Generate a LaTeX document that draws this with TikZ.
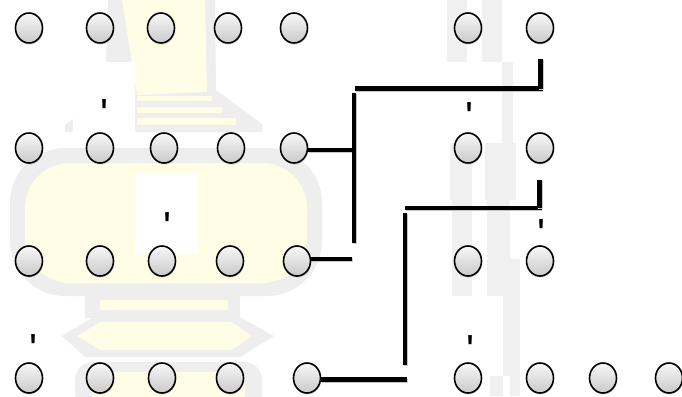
\documentclass[tikz,border=0pt]{standalone}
\usepackage{fontspec}
\newfontfamily\tickfont{Liberation Sans}
\usetikzlibrary{shapes.geometric,shadows}
\definecolor{wmgray}{HTML}{EEEEEE}
\definecolor{wmyel}{HTML}{FFFDE6}
\definecolor{stripe}{HTML}{F0F0F0}
\begin{document}
\begin{tikzpicture}[x=1pt,y=-1pt,
  ball/.style={ellipse, minimum width=27pt, minimum height=30pt, inner sep=0pt,
    draw=black, line width=1.6pt, top color=gray!6, bottom color=gray!42,
    drop shadow={shadow xshift=0.6pt, shadow yshift=-1.6pt, opacity=0.25}},
  wire/.style={line width=4.2pt, black,
    preaction={draw=black!22, line width=4.2pt, transform canvas={shift={(0.9pt,-1.3pt)}}}},
  tickmark/.style={inner sep=0pt, anchor=north, font=\tickfont\fontsize{42}{42}\selectfont}]
\useasboundingbox (0,0) rectangle (682,396);
\fill[white] (0,0) rectangle (682,396);
% ---- faint watermark ----
\fill[wmgray] (108,0) -- (215,0) -- (216,90) -- (262,124) -- (262,132) -- (65,132) -- (65,125) -- (105,95) -- cycle;
\fill[wmyel] (122,0) -- (205,0) -- (207,92) -- (137,95) -- cycle;
\fill[wmyel] (137,96) rectangle (212,101);
\fill[wmyel] (137,107) rectangle (222,113);
\fill[wmyel] (137,118) rectangle (236,125);
\fill[wmgray, rounded corners=55pt] (10,148) rectangle (322,296);
\fill[wmyel, rounded corners=45pt] (25,163) rectangle (307,283);
\fill[wmgray] (85,290) rectangle (240,318);
\fill[wmyel] (100,300) rectangle (228,310);
\fill[wmgray] (95,316) -- (238,316) -- (274,336) -- (240,357) -- (85,357) -- (62,336) -- cycle;
\fill[wmyel] (100,322) -- (232,322) -- (252,336) -- (232,350) -- (100,350) -- (77,336) -- cycle;
\fill[wmgray, rounded corners=18pt] (75,362) rectangle (262,410);
\fill[wmyel, rounded corners=14pt] (92,372) rectangle (245,410);
% right stripes
\fill[stripe] (447,0) rectangle (467,62);
\fill[stripe] (482,0) rectangle (502,62);
\fill[stripe] (502,62) rectangle (513,143);
\fill[stripe] (450,143) rectangle (472,200);
\fill[stripe] (485,143) rectangle (516,200);
\fill[stripe] (452,196) rectangle (472,296);
\fill[stripe] (487,196) rectangle (510,296);
\fill[stripe] (510,259) rectangle (520,396);
\fill[stripe] (503,296) rectangle (513,376);
\fill[stripe] (490,376) rectangle (503,396);
% white patches
\fill[white] (73,62) rectangle (135,141);
\fill[white] (135,174) rectangle (198,253);
% ---- balls ----
\foreach \n/\x in {1/29,2/100,3/161,4/228,5/294,6/468,7/540}
  \node[ball] (a\n) at (\x,28) {};
\foreach \n/\x in {1/29,2/100,3/164,4/231,5/294,6/468,7/540}
  \node[ball] (b\n) at (\x,148) {};
\foreach \n/\x in {1/29,2/100,3/162,4/230,5/297,6/468,7/540}
  \node[ball] (c\n) at (\x,261) {};
\foreach \n/\x in {1/29,2/100,3/162,4/230,5/307,6/468,7/540,8/603,9/669}
  \node[ball] (d\n) at (\x,378) {};
% ---- tick marks ----
\node[tickmark] (t1) at (105,99) {'};
\node[tickmark] (t2) at (470,102) {'};
\node[tickmark] (t3) at (168,212) {'};
\node[tickmark] (t4) at (542,219) {'};
\node[tickmark] (t5) at (34,334) {'};
\node[tickmark] (t6) at (471,335) {'};
% ---- connectors ----
\coordinate (j1) at (352,150);
\coordinate (v1t) at (354,93);
\coordinate (v1b) at (354,243);
\coordinate (h1l) at (355,88.5);
\coordinate (h1r) at (542.5,88.5);
\coordinate (a7d) at (540.5,59);
\coordinate (j2) at (352,259);
\coordinate (h2l) at (405,208);
\coordinate (h2r) at (541.5,208);
\coordinate (b7d) at (539.5,180);
\coordinate (v2t) at (405,213);
\coordinate (v2b) at (405,365);
\coordinate (j3) at (407,379.5);
\draw[wire] ([yshift=-2pt]b5.east) -- (j1);
\draw[wire] (v1t) -- (v1b);
\draw[wire] (h1l) -- (h1r);
\draw[wire] (a7d) -- (a7d |- h1r);
\draw[wire] ([yshift=2pt]c5.east) -- (j2);
\draw[wire] (h2l) -- (h2r);
\draw[wire] (b7d) -- (b7d |- h2r);
\draw[wire] (v2t) -- (v2b);
\draw[wire] ([yshift=-1.5pt]d5.east) -- (j3);
\end{tikzpicture}
\end{document}
